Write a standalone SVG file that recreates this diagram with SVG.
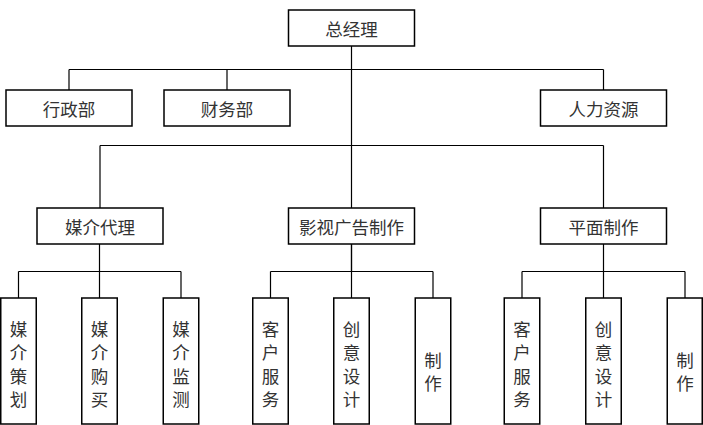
<svg xmlns="http://www.w3.org/2000/svg" width="703" height="425" viewBox="0 0 703 425">
<style>
.box{fill:#fff;stroke:#000;stroke-width:1.5}
.ln{fill:none;stroke:#000;stroke-width:1.2}
.t{font-family:"Noto Sans CJK SC","Noto Sans",sans-serif;font-size:17.5px;fill:#333;text-anchor:middle;dominant-baseline:central}
</style>
<rect width="703" height="425" fill="#fff"/>
<g id="connectors">
<path class="ln" d="M351.5 46V271M69 69.5H603.5M69 69.5V90M227 69.5V90M603.5 69.5V90M100 145.5H603.5M100 145.5V208M603.5 145.5V208"/>
<path class="ln" d="M18.5 271.5H181M18.5 271.5V298M99.5 244V298M181 271.5V298"/>
<path class="ln" d="M270.5 271.5H433M270.5 271.5V298M351.5 244V298M433 271.5V298"/>
<path class="ln" d="M522 271.5H685M522 271.5V298M603.5 244V298M685 271.5V298"/>
</g>
<g id="n-zjl"><rect class="box" x="288.5" y="10" width="126" height="36"/><text class="t" x="351.5" y="28">总经理</text></g>
<g id="n-xzb"><rect class="box" x="6" y="90" width="126" height="36"/><text class="t" x="69" y="108">行政部</text></g>
<g id="n-cwb"><rect class="box" x="164" y="90" width="126" height="36"/><text class="t" x="227" y="108">财务部</text></g>
<g id="n-rlzy"><rect class="box" x="540.5" y="90" width="126" height="36"/><text class="t" x="603.5" y="108">人力资源</text></g>
<g id="n-mjdl"><rect class="box" x="37" y="208" width="126" height="36"/><text class="t" x="100" y="226">媒介代理</text></g>
<g id="n-ysgg"><rect class="box" x="288.5" y="208" width="126" height="36"/><text class="t" x="351.5" y="226">影视广告制作</text></g>
<g id="n-pmzz"><rect class="box" x="540.5" y="208" width="126" height="36"/><text class="t" x="603.5" y="226">平面制作</text></g>
<g id="n-mjch"><rect class="box" x="0.75" y="298" width="35.5" height="126"/><text class="t" x="18.5" y="328">媒</text><text class="t" x="18.5" y="351.5">介</text><text class="t" x="18.5" y="375">策</text><text class="t" x="18.5" y="398.5">划</text></g>
<g id="n-mjgm"><rect class="box" x="81.75" y="298" width="35.5" height="126"/><text class="t" x="99.5" y="328">媒</text><text class="t" x="99.5" y="351.5">介</text><text class="t" x="99.5" y="375">购</text><text class="t" x="99.5" y="398.5">买</text></g>
<g id="n-mjjc"><rect class="box" x="163.25" y="298" width="35.5" height="126"/><text class="t" x="181" y="328">媒</text><text class="t" x="181" y="351.5">介</text><text class="t" x="181" y="375">监</text><text class="t" x="181" y="398.5">测</text></g>
<g id="n-khfw1"><rect class="box" x="252.75" y="298" width="35.5" height="126"/><text class="t" x="270.5" y="328">客</text><text class="t" x="270.5" y="351.5">户</text><text class="t" x="270.5" y="375">服</text><text class="t" x="270.5" y="398.5">务</text></g>
<g id="n-cysj1"><rect class="box" x="333.75" y="298" width="35.5" height="126"/><text class="t" x="351.5" y="328">创</text><text class="t" x="351.5" y="351.5">意</text><text class="t" x="351.5" y="375">设</text><text class="t" x="351.5" y="398.5">计</text></g>
<g id="n-zz1"><rect class="box" x="415.25" y="298" width="35.5" height="126"/><text class="t" x="433" y="359">制</text><text class="t" x="433" y="382.5">作</text></g>
<g id="n-khfw2"><rect class="box" x="504.25" y="298" width="35.5" height="126"/><text class="t" x="522" y="328">客</text><text class="t" x="522" y="351.5">户</text><text class="t" x="522" y="375">服</text><text class="t" x="522" y="398.5">务</text></g>
<g id="n-cysj2"><rect class="box" x="585.75" y="298" width="35.5" height="126"/><text class="t" x="603.5" y="328">创</text><text class="t" x="603.5" y="351.5">意</text><text class="t" x="603.5" y="375">设</text><text class="t" x="603.5" y="398.5">计</text></g>
<g id="n-zz2"><rect class="box" x="667.25" y="298" width="35" height="126"/><text class="t" x="685" y="359">制</text><text class="t" x="685" y="382.5">作</text></g>
</svg>
